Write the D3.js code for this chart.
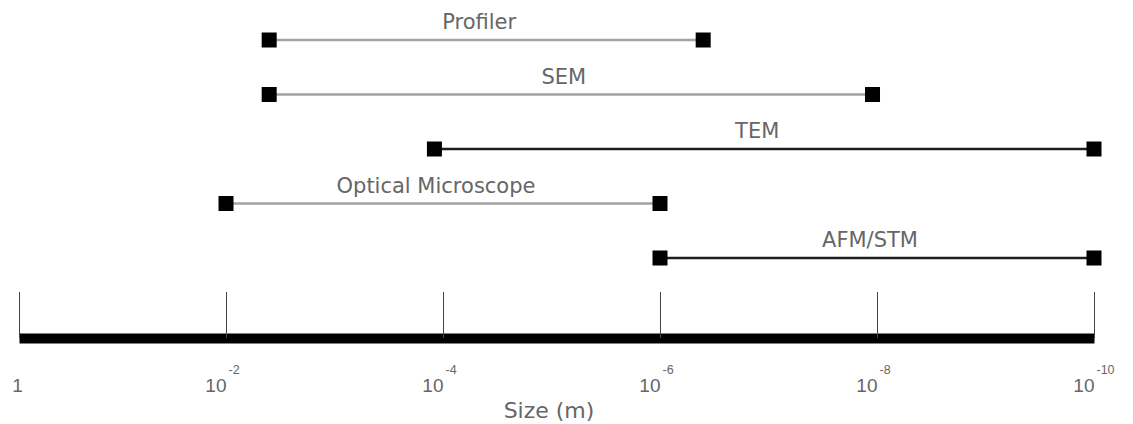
<!DOCTYPE html>
<html>
<head>
<meta charset="utf-8">
<script src="https://cdn.jsdelivr.net/npm/d3@7"></script>
<style>
  html, body { margin: 0; padding: 0; background: #fff; }
  svg { display: block; font-family: "DejaVu Sans", Verdana, sans-serif; }
</style>
</head>
<body>
<svg id="chart" width="1133" height="424"></svg>
<script>
// Measurement techniques and the length scales (m) each one covers
const instruments = ["Profiler", "SEM", "TEM", "Optical Microscope", "AFM/STM"];
const largestSize = [4e-3, 4e-3, 1.2e-4, 1e-2, 1e-6];
const smallestSize = [4e-7, 1.1e-8, 1e-10, 1e-6, 1e-10];
const tickValues = [1, 1e-2, 1e-4, 1e-6, 1e-8, 1e-10];
const axisTitle = "Size (m)";

const rows = instruments.map((name, i) => ({
  name, hi: largestSize[i], lo: smallestSize[i]
}));

const darkLines = new Set(["TEM", "AFM/STM"]);

const svg = d3.select("#chart");
const axisY = 338;

// Size axis runs from large (left) to small (right)
const x = d3.scaleLog()
  .domain([1, 1e-2, 1e-10])
  .range([19, 226, 1094]);

const y = d3.scalePoint()
  .domain(instruments)
  .range([40, 258]);

// Range bars
const g = svg.append("g");
const row = g.selectAll("g.row").data(rows).join("g").attr("class", "row");

row.append("line")
  .attr("x1", d => x(d.hi))
  .attr("x2", d => x(d.lo))
  .attr("y1", d => y(d.name))
  .attr("y2", d => y(d.name))
  .attr("stroke", d => darkLines.has(d.name) ? "#1e1e1e" : "#a3a3a3")
  .attr("stroke-width", 2.5);

row.selectAll("rect")
  .data(d => [d.hi, d.lo].map(v => ({ v, name: d.name })))
  .join("rect")
  .attr("x", d => x(d.v) - 7.5)
  .attr("y", d => y(d.name) - 7.5)
  .attr("width", 15)
  .attr("height", 15)
  .attr("fill", "#000");

row.append("text")
  .attr("x", d => (x(d.hi) + x(d.lo)) / 2 - 7)
  .attr("y", d => y(d.name) - 11)
  .attr("text-anchor", "middle")
  .attr("font-size", 21)
  .attr("fill", "#666")
  .text(d => d.name);

// Axis: thick baseline with upward ticks
const axis = d3.axisBottom(x)
  .tickValues(tickValues)
  .tickSizeInner(-46)
  .tickSizeOuter(0)
  .tickFormat("");

const ax = svg.append("g")
  .attr("transform", `translate(0,${axisY})`)
  .call(axis);

ax.select(".domain")
  .attr("stroke", "#000")
  .attr("stroke-width", 10);

ax.selectAll(".tick line")
  .attr("stroke", "#444")
  .attr("stroke-width", 1);

ax.selectAll(".tick text").remove();

ax.selectAll(".tick").each(function(v) {
  const t = d3.select(this);
  const e = Math.round(Math.log10(v));
  if (e === 0) {
    t.append("text")
      .attr("x", -2).attr("y", 54)
      .attr("text-anchor", "middle")
      .attr("font-size", 19)
      .attr("fill", "#666")
      .text("1");
  } else {
    t.append("text")
      .attr("x", 0).attr("y", 54)
      .attr("text-anchor", "end")
      .attr("font-size", 19)
      .attr("fill", "#666")
      .text("10");
    t.append("text")
      .attr("x", 2).attr("y", 36)
      .attr("text-anchor", "start")
      .attr("font-size", 12.5)
      .attr("fill", "#666")
      .text(String(e));
  }
});

svg.append("text")
  .attr("x", 549)
  .attr("y", 418)
  .attr("text-anchor", "middle")
  .attr("font-size", 22)
  .attr("fill", "#666")
  .text(axisTitle);
</script>
</body>
</html>
